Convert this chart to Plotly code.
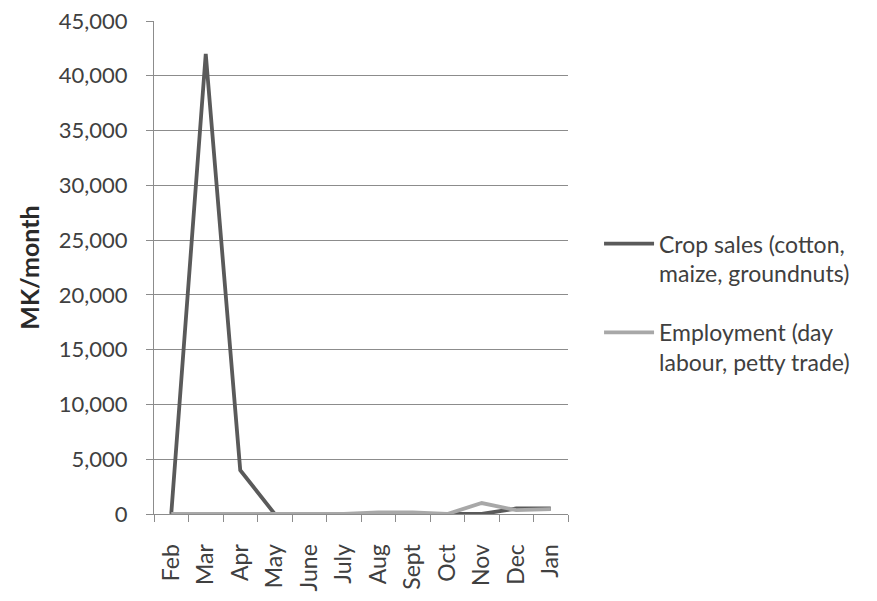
import plotly.graph_objects as go

months = ["Feb", "Mar", "Apr", "May", "June", "July", "Aug", "Sept", "Oct", "Nov", "Dec", "Jan"]
crop_sales = [0, 42000, 4000, 0, 0, 0, 0, 0, 0, 0, 500, 500]
employment = [0, 0, 0, 0, 0, 0, 150, 150, 0, 1000, 350, 450]

FONT = "Lato"
TEXT_COLOR = "#404040"
AXIS_COLOR = "#8c8c8c"

fig = go.Figure()
fig.add_trace(go.Scatter(
    x=months, y=crop_sales, mode="lines",
    name="Crop sales (cotton,<br>maize, groundnuts)",
    line=dict(color="#5a5a5a", width=3.8),
    legendgroup="a",
))
fig.add_trace(go.Scatter(
    x=months, y=employment, mode="lines",
    name="Employment (day<br>labour, petty trade)",
    line=dict(color="#a8a8a8", width=3.8),
    legendgroup="b",
))

fig.update_layout(
    width=877, height=601,
    margin=dict(l=154, r=309, t=21, b=87),
    paper_bgcolor="white", plot_bgcolor="white",
    font=dict(family=FONT, size=22, color=TEXT_COLOR),
    showlegend=True,
    legend=dict(
        x=1.075, y=0.592, xanchor="left", yanchor="top",
        valign="top", tracegroupgap=26,
        font=dict(family=FONT, size=23, color=TEXT_COLOR),
        itemwidth=50,
    ),
    xaxis=dict(
        type="category", range=[-0.5, 11.5], automargin=False,
        showline=True, linecolor=AXIS_COLOR, linewidth=1,
        ticks="outside", tickson="boundaries", ticklen=7, tickcolor=AXIS_COLOR,
        tickangle=-90, showgrid=False, ticklabelstandoff=20,
        tickfont=dict(family=FONT, size=23, color=TEXT_COLOR),
    ),
    yaxis=dict(
        range=[0, 45000], dtick=5000, tickformat=",", automargin=False,
        showline=True, linecolor=AXIS_COLOR, linewidth=1,
        ticks="outside", ticklen=7, tickcolor=AXIS_COLOR,
        showgrid=True, gridcolor=AXIS_COLOR, gridwidth=1,
        zeroline=False, ticklabelstandoff=14,
        tickfont=dict(family=FONT, size=22, color=TEXT_COLOR),
        title=dict(text="<b>MK/month</b>", font=dict(family=FONT, size=25, color="#2a2a2a"),
                   standoff=12),
    ),
)

fig.write_html("out.html")
